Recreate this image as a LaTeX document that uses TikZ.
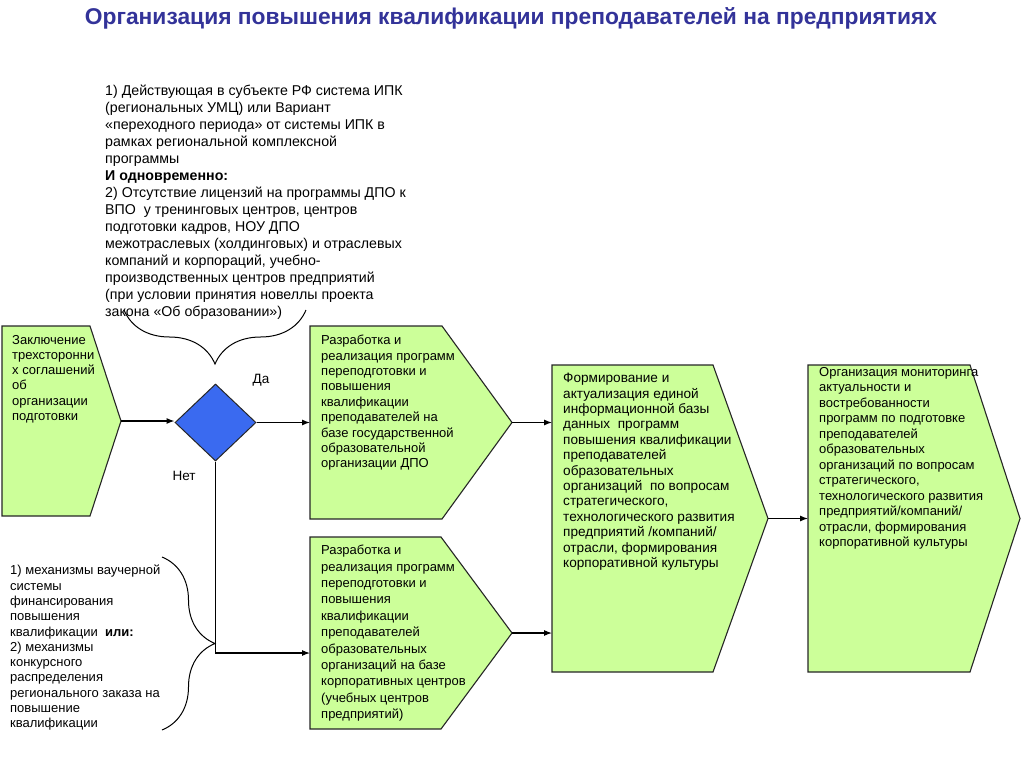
\documentclass[tikz,border=0pt]{standalone}
\usepackage{fontspec}
\setmainfont{Liberation Sans}
\usepackage{tikz}
\usetikzlibrary{arrows.meta,calc,positioning,shapes.geometric,decorations.pathreplacing}
\definecolor{leaf}{HTML}{CCFF99}
\definecolor{rim}{HTML}{262626}
\definecolor{royal}{HTML}{3A6AF0}
\definecolor{headblue}{HTML}{333399}
\tikzset{stage/.style={inner sep=0pt,outer sep=0pt}, chevron/.style={draw=rim,fill=leaf,line width=1.1pt,line join=miter}, boxtext/.style={inner sep=0pt,anchor=north west,align=left,font=\fontsize{13}{15.4}\selectfont}, flow/.style={->,line width=1.1pt}, curly/.style={decorate,decoration={brace,amplitude=#1},line width=1pt}, decision/.style={diamond,draw=rim,fill=royal,line width=1pt,inner sep=0pt,minimum width=81pt,minimum height=77pt}, yesno/.style={font=\fontsize{13.5}{15}\selectfont}}

\begin{document}
\begin{tikzpicture}[x=1pt,y=-1pt,>=Latex]
\useasboundingbox (0,0) rectangle (1024,768);
\node[font=\bfseries\fontsize{22.8}{25}\selectfont,text=headblue] (title) at (511,18) {Организация повышения квалификации преподавателей на предприятиях};
% conditions above the decision
\node[boxtext,font=\fontsize{14.2}{17}\selectfont] (cond) at (105,85) {1) Действующая в субъекте РФ система ИПК\\(региональных УМЦ) или Вариант\\«переходного периода» от системы ИПК в\\рамках региональной комплексной\\программы\\\textbf{И одновременно:}\\2) Отсутствие лицензий на программы ДПО к\\ВПО~ у тренинговых центров, центров\\подготовки кадров, НОУ ДПО\\межотраслевых (холдинговых) и отраслевых\\компаний и корпораций, учебно-\\производственных центров предприятий\\(при условии принятия новеллы проекта\\закона «Об образовании»)};
\draw[curly=54pt] (306,310) -- (124,310);
% left box
\node[stage,anchor=north west,minimum width=88pt,minimum height=190pt] (deal) at (2,326) {};
\filldraw[chevron] (deal.north west) -- (deal.north east) -- ([xshift=31pt]deal.east) coordinate (dealtip) -- (deal.south east) -- (deal.south west) -- cycle;
\node[boxtext,font=\fontsize{13}{15.2}\selectfont] (dealtxt) at (12,335) {Заключение\\трехсторонни\\х соглашений\\об\\организации\\подготовки};
% decision
\node[decision] (ask) at (215.5,422.5) {};
\node[yesno] (yes) at (261,380) {Да};
\node[yesno] (no) at (184,476) {Нет};
% two ways of training
\node[stage,anchor=north west,minimum width=132pt,minimum height=193pt] (state) at (310,326) {};
\filldraw[chevron] (state.north west) -- (state.north east) -- ([xshift=70pt]state.east) coordinate (statetip) -- (state.south east) -- (state.south west) -- cycle;
\node[boxtext] (statetxt) at (321,335) {Разработка и\\реализация программ\\переподготовки и\\повышения\\квалификации\\преподавателей на\\базе государственной\\образовательной\\организации ДПО};
\node[stage,anchor=north west,minimum width=131pt,minimum height=192pt] (corp) at (310,537) {};
\filldraw[chevron] (corp.north west) -- (corp.north east) -- ([xshift=71pt]corp.east) coordinate (corptip) -- (corp.south east) -- (corp.south west) -- cycle;
\node[boxtext,font=\fontsize{13}{16.4}\selectfont] (corptxt) at (321,545) {Разработка и\\реализация программ\\переподготовки и\\повышения\\квалификации\\преподавателей\\образовательных\\организаций на базе\\корпоративных центров\\(учебных центров\\предприятий)};
% data base and monitoring
\node[stage,anchor=north west,minimum width=161pt,minimum height=307pt] (base) at (552,365) {};
\filldraw[chevron] (base.north west) -- (base.north east) -- ([xshift=55pt]base.east) coordinate (basetip) -- (base.south east) -- (base.south west) -- cycle;
\node[boxtext,font=\fontsize{13.6}{15.4}\selectfont] (basetxt) at (563,373) {Формирование и\\актуализация единой\\информационной базы\\данных~ программ\\повышения квалификации\\преподавателей\\образовательных\\организаций~ по вопросам\\стратегического,\\технологического развития\\предприятий /компаний/\\отрасли, формирования\\корпоративной культуры};
\node[stage,anchor=north west,minimum width=162pt,minimum height=307pt] (watch) at (808,365) {};
\filldraw[chevron] (watch.north west) -- (watch.north east) -- ([xshift=50pt]watch.east) coordinate (watchtip) -- (watch.south east) -- (watch.south west) -- cycle;
\node[boxtext,font=\fontsize{13}{15.5}\selectfont] (watchtxt) at (819,367) {Организация мониторинга\\актуальности и\\востребованности\\программ по подготовке\\преподавателей\\образовательных\\организаций по вопросам\\стратегического,\\технологического развития\\предприятий/компаний/\\отрасли, формирования\\корпоративной культуры};
% funding mechanisms
\node[boxtext,font=\fontsize{13}{15.3}\selectfont] (fund) at (10,565) {1) механизмы ваучерной\\системы\\финансирования\\повышения\\квалификации~ \textbf{или:}\\2) механизмы\\конкурсного\\распределения\\регионального заказа на\\повышение\\квалификации};
\draw[curly=53pt] (162,557) -- (162,730);
% connectors
\draw[flow] (dealtip) -- (dealtip -| ask.west);
\draw[flow] (ask.east) -- (ask.east -| state.west);
\draw[flow] (ask.south) |- ([yshift=-20pt]corp.west);
\draw[flow] (statetip) -- (statetip -| base.west);
\draw[flow] (corptip) -- (corptip -| base.west);
\draw[flow] (basetip) -- (basetip -| watch.west);
\end{tikzpicture}
\end{document}
